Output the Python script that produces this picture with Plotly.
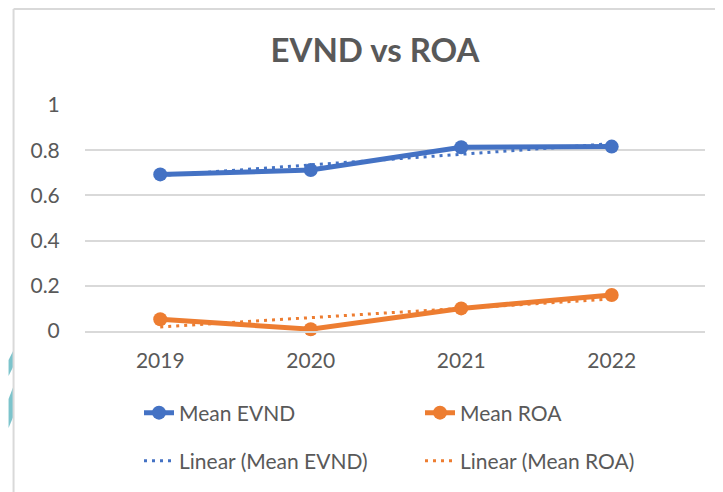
import numpy as np
import plotly.graph_objects as go

years = ["2019", "2020", "2021", "2022"]
mean_evnd = [0.693, 0.712, 0.813, 0.816]
mean_roa = [0.052, 0.008, 0.100, 0.159]
y_ticks = [0, 0.2, 0.4, 0.6, 0.8, 1]
y_tick_labels = ["0", "0.2", "0.4", "0.6", "0.8", "1"]

BLUE = "#4472C4"
ORANGE = "#ED7D31"
TEXT = "#595959"
GRID = "#D9D9D9"
FONT = "Lato"

W, H = 723, 492
OFF = 8  # default page body margin in the browser
# plot area wanted on the page: x 84.5..705, y 105..331
ML = 84.5 - OFF
MT = 105 - OFF
MR = W - (705 - OFF)
MB = H - (331 - OFF)
PW = W - ML - MR
PH = H - MT - MB


def px_x(p):
    return (p - OFF - ML) / PW


def px_y(p):
    return (H - MB - (p - OFF)) / PH


def cx(p):
    return (p - OFF) / W


def cy(p):
    return 1 - (p - OFF) / H


idx = np.arange(len(years))


def trend(vals):
    k, b = np.polyfit(idx, np.array(vals), 1)
    return (k * idx + b).tolist()


fig = go.Figure()
fig.add_trace(go.Scatter(
    x=years, y=mean_evnd, name="Mean EVND", mode="lines+markers",
    line=dict(color=BLUE, width=5), marker=dict(size=14, color=BLUE),
    cliponaxis=False, legend="legend"))
fig.add_trace(go.Scatter(
    x=years, y=mean_roa, name="Mean ROA", mode="lines+markers",
    line=dict(color=ORANGE, width=5), marker=dict(size=14, color=ORANGE),
    cliponaxis=False, legend="legend"))
fig.add_trace(go.Scatter(
    x=years, y=trend(mean_evnd), name="Linear (Mean EVND)", mode="lines",
    line=dict(color=BLUE, width=3, dash="3px,5px"), cliponaxis=False,
    legend="legend2"))
fig.add_trace(go.Scatter(
    x=years, y=trend(mean_roa), name="Linear (Mean ROA)", mode="lines",
    line=dict(color=ORANGE, width=3, dash="3px,5px"), cliponaxis=False,
    legend="legend2"))


def path(points):
    s = "M " + " L ".join(f"{px_x(a):.5f},{px_y(b):.5f}" for a, b in points)
    return s + " Z"


shapes = [
    # decorative teal stripes outside the chart border
    dict(type="path", xref="paper", yref="paper",
         path=path([(OFF, 360), (13, 350), (13, 366), (OFF, 376)]),
         fillcolor="#7CC4CC", line=dict(width=0), layer="below"),
    dict(type="path", xref="paper", yref="paper",
         path=path([(OFF, 399), (13, 386), (13, 416), (OFF, 428)]),
         fillcolor="#7CC4CC", line=dict(width=0), layer="below"),
    # chart border (left and top)
    dict(type="line", xref="paper", yref="paper", x0=px_x(13), x1=px_x(13),
         y0=px_y(9), y1=px_y(500), line=dict(color=GRID, width=2), layer="above"),
    dict(type="line", xref="paper", yref="paper", x0=px_x(13), x1=px_x(740),
         y0=px_y(9), y1=px_y(9), line=dict(color=GRID, width=2), layer="above"),
]

legend_common = dict(orientation="h", xanchor="left", yanchor="middle",
                     xref="container", yref="container",
                     entrywidth=236, entrywidthmode="pixels",
                     font=dict(family=FONT, size=21, color=TEXT),
                     bgcolor="rgba(0,0,0,0)", itemwidth=30)

fig.update_layout(
    width=W, height=H,
    margin=dict(l=ML, r=MR, t=MT, b=MB, autoexpand=False),
    paper_bgcolor="white", plot_bgcolor="white",
    title=dict(text="<b>EVND vs ROA</b>", x=cx(375), xanchor="center",
               y=cy(50), yanchor="middle", xref="container", yref="container",
               font=dict(family=FONT, size=33, color=TEXT)),
    font=dict(family=FONT, size=21, color=TEXT),
    xaxis=dict(type="category", range=[-0.5, 3.62], showgrid=False,
               showline=True, linecolor=GRID, linewidth=2,
               ticks="outside", ticklen=10, tickcolor="rgba(0,0,0,0)",
               tickfont=dict(family=FONT, size=21, color=TEXT)),
    yaxis=dict(range=[0, 1], tickvals=y_ticks, ticktext=y_tick_labels,
               showgrid=True, gridcolor=GRID, gridwidth=2, zeroline=False,
               ticks="outside", ticklen=20, tickcolor="rgba(0,0,0,0)",
               tickfont=dict(family=FONT, size=21, color=TEXT)),
    legend=dict(x=cx(139), y=cy(413), **legend_common),
    legend2=dict(x=cx(139), y=cy(461), **legend_common),
    shapes=shapes,
    showlegend=True,
)

fig.write_html("out.html")
